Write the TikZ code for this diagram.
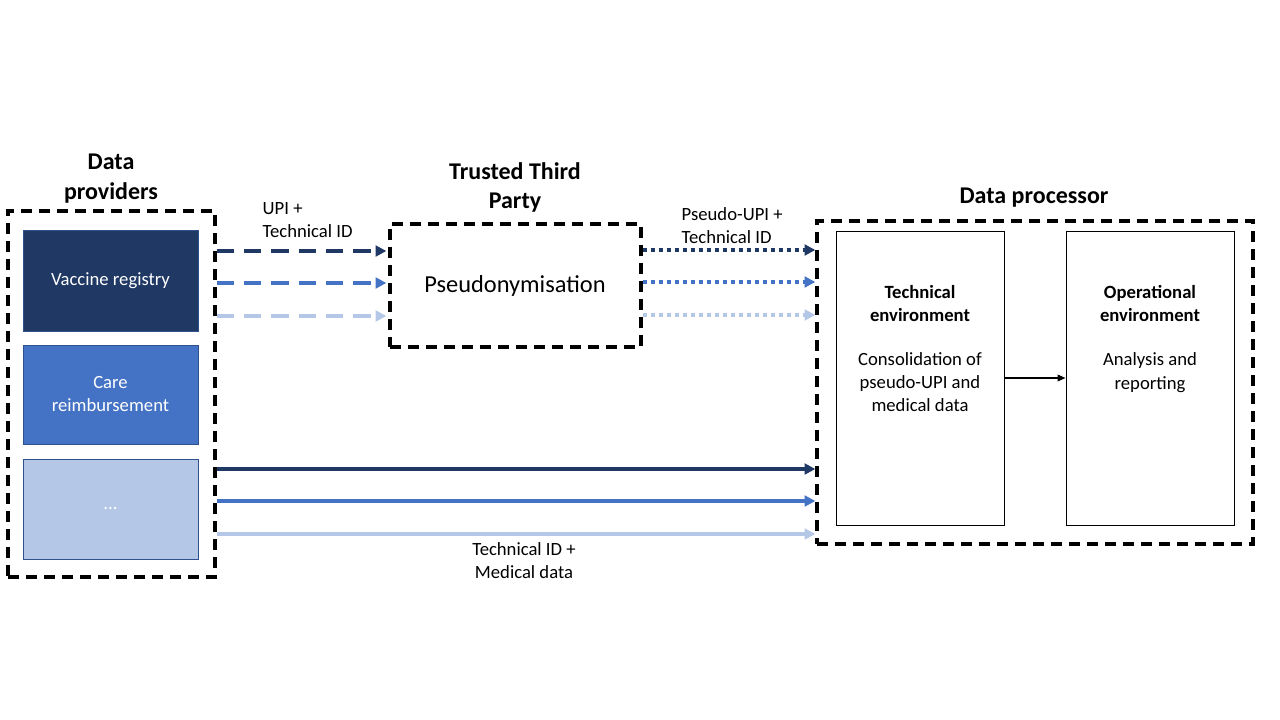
\documentclass[tikz,border=0pt]{standalone}
\usepackage{fontspec}
\setmainfont{Carlito}
\usetikzlibrary{arrows.meta}
\definecolor{navy}{HTML}{203864}
\definecolor{midblue}{HTML}{4472C4}
\definecolor{lightblue}{HTML}{B4C7E7}
\definecolor{edgeblue}{HTML}{2F528F}
\tikzset{
  group/.style={draw=black, line width=2.5pt, dash pattern=on 8pt off 5.5pt, minimum width=#1},
  src/.style={draw=edgeblue, line width=0.75pt, minimum width=131.25pt, inner sep=0pt, text=white, font=\fontsize{14}{17.25}\selectfont, align=center},
  envbox/.style={draw=black, line width=0.75pt, minimum width=126pt, minimum height=219.75pt, inner sep=0pt},
  heading/.style={font=\fontsize{18}{22}\selectfont\bfseries, align=center},
  lbl/.style={font=\fontsize{14}{17.5}\selectfont, align=center},
  flowhead/.style={-{Triangle[length=8pt,width=8pt]}},
  dasharrow/.style={flowhead, line width=2.7pt, dash pattern=on 13pt off 7.5pt},
  dotarrow/.style={flowhead, line width=2.9pt, dash pattern=on 3pt off 3pt},
  solidarrow/.style={flowhead, line width=2.6pt},
}
\begin{document}
\begin{tikzpicture}[x=0.75pt,y=-0.75pt]
\useasboundingbox (0,0) rectangle (1280,720);
% groups
\node[group=155.25pt, minimum height=274.5pt] (dp) at (111.5,394) {};
\node[group=188.25pt, minimum height=92.25pt] (ttp) at (515.5,285.5) {};
\node[group=327pt, minimum height=242.25pt] (proc) at (1035,382.5) {};
% headings
\node[heading] (hdp) at (111,178.5) {Data\\providers};
\node[heading] (http) at (515,187.5) {Trusted Third\\Party};
\node[heading] (hproc) at (1034,197.5) {Data processor};
% sources
\node[src, fill=navy, minimum height=75pt] (vr) at (110.5,281) {Vaccine registry};
\node[src, fill=midblue, minimum height=74.25pt] (cr) at (110.5,394.5) {Care\\reimbursement};
\node[src, fill=lightblue, minimum height=75pt] (etc) at (110.5,509) {...};
% TTP text
\node[font=\fontsize{18.3}{22}\selectfont] (pseudo) at (515,286) {Pseudonymisation};
% environments
\node[envbox] (tech) at (920,378.5) {};
\node[envbox] (op) at (1150,378.5) {};
\node[lbl, font=\fontsize{14}{17.5}\selectfont\bfseries] (techh) at (920,303.5) {Technical\\environment};
\node[lbl] (techt) at (920,382) {Consolidation of\\pseudo-UPI and\\medical data};
\node[lbl, font=\fontsize{14}{17.5}\selectfont\bfseries] (oph) at (1150,303.5) {Operational\\environment};
\node[lbl] (opt) at (1150,372.5) {Analysis and\\reporting};
\draw[-{Triangle[length=6pt,width=5pt]}, line width=1.1pt] (tech.east |- 0,378) -- (op.west |- 0,378);
% labels
\node[lbl, align=left, anchor=west] (l1) at (258,220) {UPI +\\Technical ID};
\node[lbl, align=left, anchor=west] (l2) at (677,225.5) {Pseudo-UPI +\\Technical ID};
\node[lbl] (l3) at (524,560.5) {Technical ID +\\Medical data};
% coordinates for rows
\coordinate (r1) at (0,251);
\coordinate (r2) at (0,283);
\coordinate (r3) at (0,316);
\coordinate (q1) at (0,250);
\coordinate (q2) at (0,282);
\coordinate (q3) at (0,315);
\coordinate (s1) at (0,469);
\coordinate (s2) at (0,501);
\coordinate (s3) at (0,534);
% dashed arrows into TTP
\draw[dasharrow, navy] (dp.east |- r1) -- ([xshift=-1.5pt]ttp.west |- r1);
\draw[dasharrow, midblue] (dp.east |- r2) -- ([xshift=-1.5pt]ttp.west |- r2);
\draw[dasharrow, lightblue] (dp.east |- r3) -- ([xshift=-1.5pt]ttp.west |- r3);
% dotted arrows into processor
\draw[dotarrow, navy] (ttp.east |- q1) -- (proc.west |- q1);
\draw[dotarrow, midblue] (ttp.east |- q2) -- (proc.west |- q2);
\draw[dotarrow, lightblue] (ttp.east |- q3) -- (proc.west |- q3);
% solid arrows
\draw[solidarrow, navy] (dp.east |- s1) -- (proc.west |- s1);
\draw[solidarrow, midblue] (dp.east |- s2) -- (proc.west |- s2);
\draw[solidarrow, lightblue] (dp.east |- s3) -- (proc.west |- s3);
\end{tikzpicture}
\end{document}
